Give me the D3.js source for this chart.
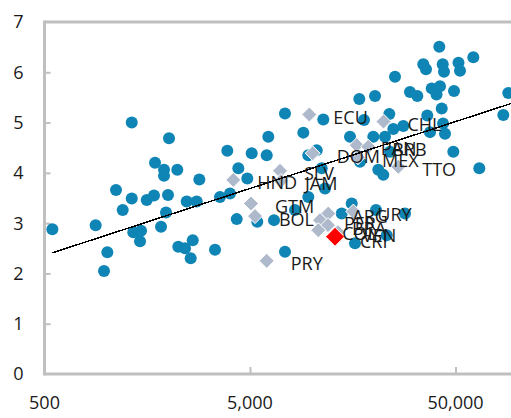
<!DOCTYPE html>
<html><head><meta charset="utf-8">
<script src="https://cdn.jsdelivr.net/npm/d3@7"></script>
<style>html,body{margin:0;padding:0;background:#fff;overflow:hidden}</style>
</head><body><svg id="c" width="511" height="418"></svg>
<script>
// World economies: GDP per capita (x, log scale) and score (y)
const worldGdp = [546,887,974,1011,1114,1201,1329,1329,1352,1475,1458,1572,1705,1725,1845,1908,1908,1951,1995,2018,
  2214,2239,2414,2460,2572,2632,2752,2834,3379,3573,3877,3997,4309,4387,4852,5097,5426,6030,6138,6543,7400,7400,8279,
  9087,9609,9609,10560,11166,11368,11588,13972,15333,15628,16215,17017,17151,17936,19907,20293,20518,21055,
  22266,22695,23134,23814,24001,24906,25387,27856,28393,30023,32606,34852,35920,36446,37570,38295,41706,42034,40420,
  42846,43332,43954,43482,44458,48792,49174,51705,52581,61050,65288,85440,90330];
const worldScore = [2.88,2.96,2.05,2.42,3.66,3.26,5.00,3.49,2.82,2.85,2.64,3.46,3.55,4.20,2.93,4.06,3.94,3.21,3.56,4.69,
  4.06,2.53,2.50,3.43,2.30,2.66,3.43,3.87,2.47,3.52,4.44,3.59,3.08,4.09,3.89,4.39,3.03,4.35,4.72,3.06,5.18,2.43,3.26,
  4.80,4.35,3.52,4.45,4.09,5.06,3.69,3.19,4.72,3.39,2.60,5.47,4.22,5.05,4.72,5.53,3.26,4.06,
  3.96,4.72,2.76,5.17,4.42,4.87,5.91,4.93,3.19,5.61,5.53,6.16,6.06,5.14,4.81,5.68,6.51,5.72,5.56,
  5.28,6.16,6.01,4.98,4.78,4.42,5.63,6.19,6.03,6.30,4.09,5.15,5.59];
// Latin America & Caribbean
const latamCodes = ["ECU","CHL","DOM","PAN","BRB","MEX","TTO","HND","SLV","JAM","GTM","BOL","PRY","ARG","URY","PER","BRA","COL","VEN"];
const latamGdp   = [9718,22317,10095,16526,18816,16768,26339,4147,6998,7077,5057,5288,6030,12023,15909,10955,11982,10747,13405];
const latamScore = [5.16,5.02,4.39,4.55,4.52,4.31,4.12,3.86,4.04,3.84,3.39,3.14,2.25,3.19,3.23,3.06,2.96,2.86,2.82];
// Highlighted country
const focusCodes = ["CRI"];
const focusGdp = [12962];
const focusScore = [2.73];
// Trend line
const trendGdp = [546, 95000];
const trendScore = [2.41, 5.39];
// Ticks
const xTickValues = [500, 5000, 50000];
const xTickLabels = ["500", "5,000", "50,000"];
const yTickValues = [0,1,2,3,4,5,6,7];

const svg = d3.select("#c");
const W = 511, H = 418;
const mLeft = 44.5, mTop = 22, mBottom = 374;
const x = d3.scaleLog().domain([500, 500000]).range([mLeft, mLeft + 3*205.5]);
const y = d3.scaleLinear().domain([0, 7]).range([mBottom, mTop]);

const axisColor = "#bfbfbf";
const font = "'Open Sans', 'Noto Sans', sans-serif";
const fs = 18;

svg.append("defs").append("clipPath").attr("id","clip")
  .append("rect").attr("x", mLeft).attr("y", 0).attr("width", W - mLeft).attr("height", H);

// frame top
svg.append("line").attr("x1", mLeft).attr("x2", W).attr("y1", mTop).attr("y2", mTop)
  .attr("stroke", axisColor).attr("stroke-width", 3);

// y axis
const yAxis = d3.axisRight(y).tickValues(yTickValues.filter(v => v > 0 && v < 7)).tickSize(6).tickFormat("");
const gy = svg.append("g").attr("transform", `translate(${mLeft},0)`).call(yAxis);
gy.select(".domain").remove();
gy.selectAll(".tick line").attr("stroke", axisColor).attr("stroke-width", 2);
svg.append("line").attr("x1", mLeft).attr("x2", mLeft).attr("y1", mTop - 1.5).attr("y2", mBottom + 1.5)
  .attr("stroke", axisColor).attr("stroke-width", 3);
svg.append("g").selectAll("text").data(yTickValues).join("text")
  .attr("x", 23.5).attr("y", d => y(d)).attr("text-anchor", "end").attr("dy", "0.36em")
  .attr("font-family", font).attr("font-size", fs).attr("fill", "#1a1a1a").text(d => d);

// x axis
const xAxis = d3.axisTop(x).tickValues(xTickValues).tickSize(7).tickFormat("");
const gx = svg.append("g").attr("transform", `translate(0,${mBottom})`).call(xAxis);
gx.select(".domain").remove();
gx.selectAll(".tick line").attr("stroke", axisColor).attr("stroke-width", 2);
svg.append("line").attr("x1", mLeft).attr("x2", W).attr("y1", mBottom).attr("y2", mBottom)
  .attr("stroke", axisColor).attr("stroke-width", 3);
svg.append("g").selectAll("text").data(xTickValues).join("text")
  .attr("x", d => x(d)).attr("y", 403).attr("text-anchor", "middle").attr("dy", "0.36em")
  .attr("font-family", font).attr("font-size", fs).attr("fill", "#1a1a1a")
  .text((d, i) => xTickLabels[i]);

const plot = svg.append("g").attr("clip-path", "url(#clip)");

// world points
plot.append("g").selectAll("circle").data(worldGdp).join("circle")
  .attr("cx", d => x(d)).attr("cy", (d, i) => y(worldScore[i])).attr("r", 6)
  .attr("fill", "#0e85b5");

const diamond = s => `M0,${-s}L${s},0L0,${s}L${-s},0Z`;
plot.append("g").selectAll("path").data(latamGdp).join("path")
  .attr("transform", (d, i) => `translate(${x(d)},${y(latamScore[i])})`)
  .attr("d", diamond(7.5)).attr("fill", "#aebacb").attr("stroke", "#fff").attr("stroke-width", 1);
plot.append("g").selectAll("path").data(focusGdp).join("path")
  .attr("transform", (d, i) => `translate(${x(d)},${y(focusScore[i])})`)
  .attr("d", diamond(9.5)).attr("fill", "#ff0000").attr("stroke", "#fff").attr("stroke-width", 1);

// trend line
plot.append("path")
  .datum(trendGdp.map((g, i) => [g, trendScore[i]]))
  .attr("d", d3.line().x(d => x(d[0])).y(d => y(d[1])))
  .attr("fill", "none").attr("stroke", "#000").attr("stroke-width", 1.5)
  .attr("shape-rendering", "crispEdges");

// labels
const labels = plot.append("g").attr("font-family", font).attr("font-size", fs).attr("fill", "#1a1a1a");
labels.selectAll("text.l").data(latamCodes).join("text").attr("class", "l")
  .attr("x", (d, i) => x(latamGdp[i]) + 24).attr("y", (d, i) => y(latamScore[i]) + 3)
  .attr("dy", "0.36em").text(d => d);
labels.selectAll("text.f").data(focusCodes).join("text").attr("class", "f")
  .attr("x", (d, i) => x(focusGdp[i]) + 25).attr("y", (d, i) => y(focusScore[i]) + 5)
  .attr("dy", "0.36em").text(d => d);
</script></body></html>
